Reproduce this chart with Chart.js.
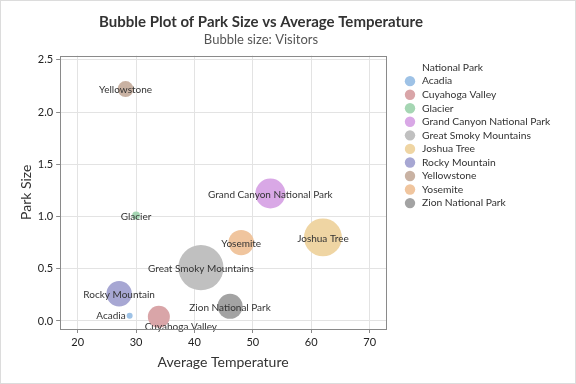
<!DOCTYPE html>
<html>
<head>
<meta charset="utf-8">
<script src="https://cdn.jsdelivr.net/npm/chart.js@4.4.1/dist/chart.umd.min.js"></script>
<style>
    html, body { margin: 0; padding: 0; background: #fff; }
    #wrap { width: 576px; height: 384px; }
</style>
</head>
<body>
<div id="wrap"><canvas id="BubbleChart" width="576" height="384"></canvas></div>
<script>
const parks = ['Acadia', 'Cuyahoga Valley', 'Glacier', 'Grand Canyon National Park', 'Great Smoky Mountains',
    'Joshua Tree', 'Rocky Mountain', 'Yellowstone', 'Yosemite', 'Zion National Park'];
const avgTemp = [28.9, 33.9, 30.0, 53.0, 41.1, 62.0, 27.1, 28.2, 48.0, 46.1];
const parkSize = [0.05, 0.04, 1.01, 1.22, 0.51, 0.80, 0.26, 2.22, 0.75, 0.14];
const visitors = [0.2, 2.7, 0.35, 5.0, 11.4, 8.0, 3.6, 1.4, 3.6, 3.5]; // millions
const parkColors = ['#9ec2e6', '#d9a5a8', '#a5d6b3', '#d9a8e6', '#c0c0c0',
    '#efd5a3', '#a7a7d3', '#c9b2a3', '#f0c59e', '#a3a3a3'];
const xTicks = [20, 30, 40, 50, 60, 70];
const yTicks = [0, 0.5, 1.0, 1.5, 2.0, 2.5];

const BubbleChartId = 'BubbleChart';
const TextColor = '#333333';
const FontFamily = "Lato, 'Open Sans', sans-serif";
const LegendTitle = 'National Park';

// label tweaks where the reference moves text off the bubble centre
const labelPlacement = {
    'Acadia': { align: 'right', dx: -4, dy: 0 },
    'Cuyahoga Valley': { align: 'center', dx: 22, dy: 10 }
};

const bubbleLabels = {
    id: 'bubbleLabels',
    afterDatasetsDraw(chart) {
        const { ctx } = chart;
        ctx.save();
        ctx.font = "10px " + FontFamily;
        ctx.fillStyle = TextColor;
        ctx.textBaseline = 'middle';
        chart.data.datasets.forEach((ds, i) => {
            const el = chart.getDatasetMeta(i).data[0];
            if (!el) return;
            const place = labelPlacement[ds.label] || { align: 'center', dx: 0, dy: 1 };
            ctx.textAlign = place.align;
            ctx.fillText(ds.label, el.x + place.dx, el.y + place.dy);
        });
        ctx.restore();
    }
};

// legend drawn in the space kept free by the hidden right axis
const sideLegend = {
    id: 'sideLegend',
    afterDraw(chart) {
        const { ctx, chartArea } = chart;
        const markX = chartArea.right + 24;
        const textX = chartArea.right + 36;
        let y = chartArea.top + 12;
        ctx.save();
        ctx.font = "10.3px " + FontFamily;
        ctx.fillStyle = TextColor;
        ctx.textAlign = 'left';
        ctx.textBaseline = 'middle';
        ctx.fillText(LegendTitle, textX, y);
        chart.data.datasets.forEach(ds => {
            y += 13.55;
            ctx.fillStyle = ds.backgroundColor;
            ctx.beginPath();
            ctx.arc(markX, y, 5.2, 0, Math.PI * 2);
            ctx.fill();
            ctx.fillStyle = TextColor;
            ctx.fillText(ds.label, textX, y);
        });
        ctx.restore();
    }
};

const frame = {
    id: 'frame',
    beforeDraw(chart) {
        const { ctx, width, height } = chart;
        ctx.save();
        ctx.fillStyle = '#ffffff';
        ctx.fillRect(0, 0, width, height);
        ctx.strokeStyle = '#dcdcdc';
        ctx.lineWidth = 1;
        ctx.strokeRect(0.5, 0.5, width - 1, height - 1);
        ctx.restore();
    },
    afterDraw(chart) {
        const { ctx, chartArea: { left, top, right, bottom } } = chart;
        ctx.save();
        ctx.strokeStyle = '#8a8a8a';
        ctx.lineWidth = 1;
        ctx.strokeRect(Math.round(left) + 0.5, Math.round(top) + 0.5,
            Math.round(right - left), Math.round(bottom - top));
        ctx.restore();
    }
};

const datasets = parks.map((name, i) => ({
    label: name,
    data: [{ x: avgTemp[i], y: parkSize[i], v: visitors[i] }],
    backgroundColor: parkColors[i],
    borderColor: parkColors[i],
    borderWidth: 0,
    radius: ctx => Math.sqrt(ctx.raw.v) * 6.7,
    hoverRadius: 0
}));

Chart.defaults.font.family = FontFamily;
Chart.defaults.color = TextColor;

new Chart(document.getElementById(BubbleChartId),
{
    type: 'bubble',
    data: { datasets: datasets },
    plugins: [frame, bubbleLabels, sideLegend],
    options:
    {
        responsive: false,
        animation: false,
        layout: { padding: { top: 13, left: 0, right: 54, bottom: 13 } },
        plugins:
        {
            title:
            {
                display: true,
                text: 'Bubble Plot of Park Size vs Average Temperature',
                font: { size: 15, weight: 'bold' },
                color: '#333333',
                padding: { top: 0, bottom: 1 }
            },
            subtitle:
            {
                display: true,
                text: 'Bubble size: Visitors',
                font: { size: 13 },
                color: '#555555',
                padding: { top: 0, bottom: 8 }
            },
            legend: { display: false },
            tooltip: { enabled: false }
        },
        scales:
        {
            x:
            {
                type: 'linear',
                min: 17,
                max: 72.8,
                afterBuildTicks: axis => { axis.ticks = xTicks.map(v => ({ value: v })); },
                ticks: { font: { size: 11 }, color: '#222222', padding: 3 },
                grid: { color: '#e3e3e3', tickColor: '#8a8a8a', tickLength: 4 },
                border: { display: false },
                title:
                {
                    display: true,
                    text: 'Average Temperature',
                    font: { size: 14 },
                    color: TextColor,
                    padding: { top: 2, bottom: 0 }
                }
            },
            y:
            {
                type: 'linear',
                min: -0.077,
                max: 2.54,
                afterBuildTicks: axis => { axis.ticks = yTicks.map(v => ({ value: v })); },
                ticks: { font: { size: 11 }, color: '#222222', padding: 3, callback: v => v.toFixed(1) },
                grid: { color: '#e3e3e3', tickColor: '#8a8a8a', tickLength: 4 },
                border: { display: false },
                title:
                {
                    display: true,
                    text: 'Park Size',
                    font: { size: 14 },
                    color: TextColor,
                    padding: { top: 18, bottom: 0 }
                }
            },
            legendSpace:
            {
                type: 'linear',
                position: 'right',
                display: true,
                grid: { display: false },
                border: { display: false },
                ticks: { display: false },
                afterFit: axis => { axis.width = 136; }
            }
        }
    }
});
</script>
</body>
</html>
